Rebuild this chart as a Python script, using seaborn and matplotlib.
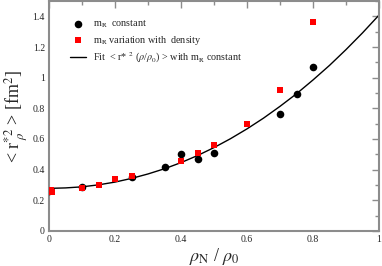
import matplotlib
matplotlib.use("Agg")
import matplotlib.pyplot as plt
import seaborn as sns
import pandas as pd
from matplotlib.ticker import MultipleLocator, FixedLocator

# data
x_const = [0.0, 0.1, 0.25, 0.35, 0.40, 0.45, 0.50, 0.70, 0.75, 0.80]
y_const = [0.262, 0.289, 0.350, 0.419, 0.501, 0.467, 0.510, 0.766, 0.892, 1.070]

x_var = [0.005, 0.01, 0.10, 0.15, 0.20, 0.25, 0.40, 0.45, 0.50, 0.60, 0.70, 0.80]
y_var = [0.265, 0.255, 0.280, 0.300, 0.336, 0.358, 0.458, 0.506, 0.558, 0.695, 0.922, 1.363]

x_fit = [0.0, 0.05, 0.1, 0.15, 0.2, 0.25, 0.3, 0.35, 0.4, 0.45, 0.5,
         0.55, 0.6, 0.65, 0.7, 0.75, 0.8, 0.85, 0.9, 0.95, 1.0]
y_fit = [0.278, 0.281, 0.288, 0.301, 0.319, 0.343, 0.372, 0.406, 0.446, 0.492, 0.544,
         0.602, 0.666, 0.736, 0.813, 0.895, 0.985, 1.080, 1.183, 1.292, 1.408]

x_ticks = [0, 0.2, 0.4, 0.6, 0.8, 1.0]
x_ticklabels = ["0", "0.2", "0.4", "0.6", "0.8", "1"]
y_ticks = [0, 0.2, 0.4, 0.6, 0.8, 1.0, 1.2, 1.4]
y_ticklabels = ["0", "0.2", "0.4", "0.6", "0.8", "1", "1.2", "1.4"]

lab_const = r"m$_{\rm R}$  constant"
lab_var = r"m$_{\rm R}$ variation with  density"
lab_fit = r"Fit  < r* $^{2}$ ($\rho$/$\rho_0$) > with m$_{\rm R}$ constant"

sns.set_style("white")
plt.rcParams["font.family"] = ["Liberation Serif", "DejaVu Serif"]
plt.rcParams["mathtext.fontset"] = "stix"

fig = plt.figure(figsize=(3.82, 2.66), dpi=100)
ax = fig.add_axes([49/382, 35/266, 330/382, 230/266])

df_c = pd.DataFrame({"x": x_const, "y": y_const})
df_v = pd.DataFrame({"x": x_var, "y": y_var})
df_f = pd.DataFrame({"x": x_fit, "y": y_fit})

sns.lineplot(data=df_f, x="x", y="y", ax=ax, color="black", lw=1.0, label=lab_fit, zorder=2)
sns.scatterplot(data=df_c, x="x", y="y", ax=ax, color="black", marker="o", s=30,
                edgecolor="black", linewidth=0, label=lab_const, zorder=3)
sns.scatterplot(data=df_v, x="x", y="y", ax=ax, color="#ff0000", marker="s", s=22,
                edgecolor="#ff0000", linewidth=0, label=lab_var, zorder=4)

ax.set_xlim(0, 1)
ax.set_ylim(0, 1.5)
ax.xaxis.set_major_locator(FixedLocator(x_ticks))
ax.set_xticklabels(x_ticklabels)
ax.yaxis.set_major_locator(FixedLocator(y_ticks))
ax.set_yticklabels(y_ticklabels)
ax.xaxis.set_minor_locator(MultipleLocator(0.1))
ax.yaxis.set_minor_locator(MultipleLocator(0.1))

spine_col = "#8c8c8c"
for s in ax.spines.values():
    s.set_visible(True)
    s.set_color(spine_col)
    s.set_linewidth(1.5)
ax.tick_params(which="both", direction="in", top=True, right=True, color=spine_col,
               labelsize=7, pad=3)
ax.tick_params(which="major", length=5, width=1.0)
ax.tick_params(which="minor", length=3, width=1.0)

ax.set_xlabel(r"$\rho_{\rm N}$ / $\rho_0$", fontsize=13, labelpad=1)
ax.set_ylabel(r"< r$^{*2}_{\ \rho}$ > [fm$^{2}$]", fontsize=13, labelpad=2)

h, l = ax.get_legend_handles_labels()
order = [l.index(lab_const), l.index(lab_var), l.index(lab_fit)]
leg = ax.legend([h[i] for i in order], [l[i] for i in order], loc="upper left",
                bbox_to_anchor=(0.035, 0.965), frameon=False, fontsize=7.3,
                handlelength=1.6, handletextpad=0.7, labelspacing=0.4, markerscale=1.0)

fig.savefig("out.png", dpi=100)
